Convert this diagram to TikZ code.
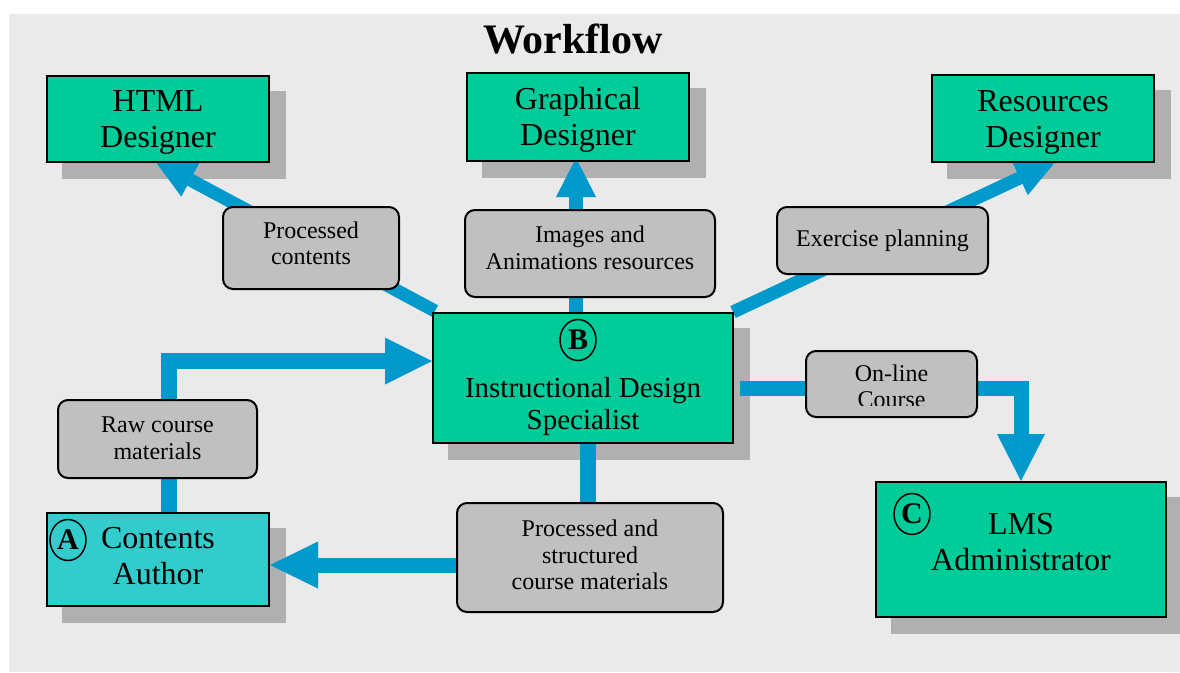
\documentclass[tikz,border=0pt]{standalone}
\usepackage{fontspec}
\setmainfont{Liberation Serif}
\usetikzlibrary{arrows.meta,shapes.geometric}
\definecolor{bgc}{HTML}{EAEAEA}
\definecolor{greenc}{HTML}{00CC99}
\definecolor{tealc}{HTML}{33CCCC}
\definecolor{lblc}{HTML}{C0C0C0}
\definecolor{shadc}{HTML}{B0B0B0}
\definecolor{bluec}{HTML}{0099CC}
\newcommand\myH[1]{\rule{0pt}{#1}}
\newcommand\myD[1]{\rule[-#1]{0pt}{#1}}
\pgfdeclarelayer{back}
\pgfdeclarelayer{shadow}
\pgfdeclarelayer{conn}
\pgfsetlayers{back,shadow,conn,main}
\tikzset{
  role/.style={draw=black, line width=2pt, fill=greenc, inner sep=0pt, align=center,
    font=\fontsize{32}{36}\selectfont, minimum width=222pt, minimum height=86pt},
  lbl/.style={draw=black, line width=2pt, fill=lblc, rounded corners=10pt, inner sep=0pt,
    align=center, font=\fontsize{24}{26.5}\selectfont},
  lbltxt/.style={inner sep=0pt, align=center, font=\fontsize{24}{26}\selectfont},
  conn/.style={draw=bluec, line width=15pt},
  circ/.style={ellipse, draw=black, line width=1.5pt, inner sep=0pt, minimum width=36pt,
    minimum height=41pt, font=\bfseries\fontsize{30}{30}\selectfont},
  titlestyle/.style={inner sep=0pt, font=\bfseries\fontsize{42}{42}\selectfont}
}
\begin{document}
\begin{tikzpicture}[x=1pt,y=-1pt]
\useasboundingbox (0,0) rectangle (1180,672);
\begin{pgfonlayer}{back}
\fill[bgc] (9,14) rectangle (1180,672);
\end{pgfonlayer}

\node[titlestyle, anchor=base] (title) at (573,53) {Workflow};

% role boxes
\node[role] (HD) at (158,119) {\myH{28pt}HTML\\Designer};
\node[role, minimum height=88pt] (GD) at (578,117) {\myH{28pt}Graphical\\Designer};
\node[role, minimum height=87pt] (RD) at (1043,118.5) {\myH{28pt}Resources\\Designer};
\node[role, minimum width=300pt, minimum height=130pt, font=\fontsize{29}{32}\selectfont]
  (IDS) at (583,378) {\myH{78pt}Instructional Design\\Specialist};
\node[role, fill=tealc, minimum height=93pt] (CA) at (158,559.5) {Contents\\Author\myD{7pt}};
\node[role, minimum width=290pt, minimum height=135pt] (LMS) at (1021,549.5) {LMS\\Administrator\myD{15pt}};

% circled letters
\node[circ] (cB) at (578,340) {B};
\node[circ] (cA) at (68,540) {A};
\node[circ] (cC) at (912,514) {C};

% labels
\node[lbl, minimum width=176pt, minimum height=82pt] (PC) at (311,248) {Processed\\contents\myD{10pt}};
\node[lbl, minimum width=250pt, minimum height=87pt] (IA) at (590,253.5) {Images and\\Animations resources\myD{12pt}};
\node[lbl, minimum width=211pt, minimum height=67pt] (EP) at (882.5,240.5) {Exercise planning};
\node[lbl, minimum width=171pt, minimum height=66pt] (OL) at (891.5,384) {};
\begin{scope}
\clip (806,351) rectangle (977,405.5);
\node[lbltxt] (OLt) at (891.5,384) {\myH{22pt}On-line\\Course};
\end{scope}
\node[lbl, minimum width=199pt, minimum height=78pt] (RC) at (157.5,439) {Raw course\\materials\myD{1.5pt}};
\node[lbl, minimum width=266pt, minimum height=109pt] (PS) at (590,557.5) {Processed and\\structured\\course materials\myD{5pt}};

% shadows
\begin{pgfonlayer}{shadow}
\foreach \n in {HD,GD,RD,IDS,CA,LMS}
  \fill[shadc] ([xshift=16pt,yshift=-16pt]\n.south west) rectangle ([xshift=16pt,yshift=-16pt]\n.north east);
\end{pgfonlayer}

% connectors
\coordinate (hdIn) at ([xshift=-3pt,yshift=2pt]HD.south);
\coordinate (gdIn) at ([xshift=-2pt,yshift=4pt]GD.south);
\coordinate (rdIn) at ([xshift=13pt,yshift=2pt]RD.south);
\coordinate (caIn) at ([yshift=-5.5pt]CA.east);
\coordinate (idsIn) at ([yshift=17pt]IDS.west);
\coordinate (idsOut) at ([xshift=6pt,yshift=-10pt]IDS.east);
\coordinate (idsDown) at ([xshift=5pt]IDS.south);
\begin{pgfonlayer}{conn}
\draw[conn, line width=13pt, -{Triangle[length=40pt,width=38pt,line width=0pt]}]
  ([xshift=3pt,yshift=1pt]IDS.north west) -- (hdIn);
\draw[conn, line width=14pt, -{Triangle[length=39pt,width=40pt,line width=0pt]}]
  (gdIn |- IDS.north) -- (gdIn);
\draw[conn, line width=13pt, -{Triangle[length=40pt,width=38pt,line width=0pt]}]
  ([xshift=-1pt]IDS.north east) -- (rdIn);
\draw[conn, line width=16pt, -{Triangle[length=47pt,width=47pt,line width=0pt]}]
  ([xshift=11pt]CA.north) |- (idsIn);
\draw[conn, line width=16pt] (idsDown) -- (idsDown |- PS.north);
\draw[conn, -{Triangle[length=48pt,width=47pt,line width=0pt]}] (caIn -| PS.west) -- (caIn);
\draw[conn, -{Triangle[length=47pt,width=48pt,line width=0pt]}] (idsOut) -| (LMS.north);
\end{pgfonlayer}
\end{tikzpicture}
\end{document}
